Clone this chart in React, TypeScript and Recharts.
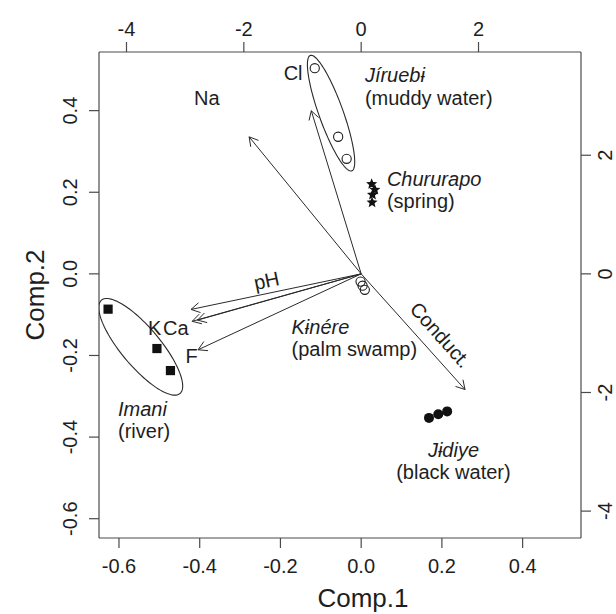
import React from 'react';
import { ScatterChart, Scatter, XAxis, YAxis } from 'recharts';

// ---- axis ticks ----
const comp1Ticks = [-0.6, -0.4, -0.2, 0.0, 0.2, 0.4];
const comp2Ticks = [-0.6, -0.4, -0.2, 0.0, 0.2, 0.4];
const loadTicksX = [-4, -2, 0, 2];
const loadTicksY = [-4, -2, 0, 2];

// ---- sample scores (Comp.1, Comp.2) ----
const jiruebi = [
  { x: -0.115, y: 0.504 },
  { x: -0.057, y: 0.336 },
  { x: -0.036, y: 0.282 },
];
const chururapo = [
  { x: 0.026, y: 0.22 },
  { x: 0.034, y: 0.206 },
  { x: 0.028, y: 0.194 },
  { x: 0.027, y: 0.175 },
];
const kinere = [
  { x: -0.0015, y: -0.019 },
  { x: 0.0035, y: -0.029 },
  { x: 0.009, y: -0.039 },
];
const imani = [
  { x: -0.627, y: -0.0865 },
  { x: -0.506, y: -0.183 },
  { x: -0.4725, y: -0.237 },
];
const jidiye = [
  { x: 0.168, y: -0.353 },
  { x: 0.191, y: -0.344 },
  { x: 0.213, y: -0.337 },
];

// ---- variable loadings (top / right axes units) ----
const loadings = [
  { name: 'Cl', x: -0.85, y: 2.75 },
  { name: 'Na', x: -1.91, y: 2.31 },
  { name: 'pH', x: -2.9, y: -0.6 },
  { name: 'K', x: -2.88, y: -0.8 },
  { name: 'Ca', x: -2.79, y: -0.78 },
  { name: 'F', x: -2.78, y: -1.28 },
  { name: 'Conduct.', x: 1.77, y: -1.95 },
];
const loadingLabels = [
  { text: 'Cl', x: -1.16, y: 3.27 },
  { text: 'Na', x: -2.63, y: 2.85 },
  { text: 'pH', x: -1.61, y: -0.13 },
  { text: 'K', x: -3.52, y: -1.03 },
  { text: 'Ca', x: -3.16, y: -1.03 },
  { text: 'F', x: -2.89, y: -1.5 },
  { text: 'Conduct.', x: 1.34, y: -1.04 },
];

// ---- group labels (Comp.1, Comp.2) ----
const groupLabels = [
  { name: 'Jíruebɨ', desc: '(muddy water)', x: 0.0092, y: 0.47 },
  { name: 'Chururapo', desc: '(spring)', x: 0.0637, y: 0.2155 },
  { name: 'Kɨnére', desc: '(palm swamp)', x: -0.1725, y: -0.1472 },
  { name: 'Imani', desc: '(river)', x: -0.6024, y: -0.3478 },
  { name: 'Jɨdiye', desc: '(black water)', x: 0.2286, y: -0.4482 },
];

// ---- group ellipses: center, end of major axis, end of minor axis ----
const ellipseJiruebi = [
  { x: -0.0746, y: 0.3938 },
  { x: -0.0231, y: 0.2524 },
  { x: -0.0466, y: 0.4043 },
];
const ellipseImani = [
  { x: -0.5461, y: -0.1788 },
  { x: -0.4489, y: -0.2932 },
  { x: -0.5092, y: -0.1482 },
];

// ---- styles ----
const FONT = '"Liberation Sans", Arial, Helvetica, sans-serif';
const INK = '#1e1e1e';
const FRAME = '#4a4a4a';
const labelRotation: Record<string, number> = { pH: -11.7, 'Conduct.': 48.2 };
const groupAnchor: Record<string, string> = { 'Jɨdiye': 'middle' };

const Empty = () => <g />;

const OpenCircle = (p: any) => (
  <circle cx={p.cx} cy={p.cy} r={4.6} fill="none" stroke={INK} strokeWidth={1.1} />
);
const FilledCircle = (p: any) => <circle cx={p.cx} cy={p.cy} r={5} fill="#111" />;
const FilledSquare = (p: any) => (
  <rect x={p.cx - 4.6} y={p.cy - 4.6} width={9.2} height={9.2} fill="#111" />
);
const Star = (p: any) => {
  const R = 5.8, r = 2.6;
  const pts: string[] = [];
  for (let i = 0; i < 10; i++) {
    const a = -Math.PI / 2 + (i * Math.PI) / 5;
    const rr = i % 2 === 0 ? R : r;
    pts.push(`${p.cx + rr * Math.cos(a)},${p.cy + rr * Math.sin(a)}`);
  }
  return <polygon points={pts.join(' ')} fill="#111" />;
};

const ArrowLine = (props: any) => {
  const pts = props.points;
  if (!pts || pts.length < 2) return null;
  const a = pts[0], b = pts[1];
  const ang = Math.atan2(b.y - a.y, b.x - a.x);
  const L = 10, phi = Math.PI / 6;
  const h1x = b.x - L * Math.cos(ang - phi), h1y = b.y - L * Math.sin(ang - phi);
  const h2x = b.x - L * Math.cos(ang + phi), h2y = b.y - L * Math.sin(ang + phi);
  return (
    <g>
      <line x1={a.x} y1={a.y} x2={b.x} y2={b.y} stroke="#2a2a2a" strokeWidth={1} />
      <polyline points={`${h1x},${h1y} ${b.x},${b.y} ${h2x},${h2y}`} fill="none" stroke="#2a2a2a" strokeWidth={1} />
    </g>
  );
};

const EllipseLine = (props: any) => {
  const pts = props.points;
  if (!pts || pts.length < 3) return null;
  const c = pts[0], p = pts[1], q = pts[2];
  const ux = p.x - c.x, uy = p.y - c.y, vx = q.x - c.x, vy = q.y - c.y;
  let d = '';
  const n = 120;
  for (let i = 0; i <= n; i++) {
    const t = (i / n) * 2 * Math.PI;
    const x = c.x + Math.cos(t) * ux + Math.sin(t) * vx;
    const y = c.y + Math.cos(t) * uy + Math.sin(t) * vy;
    d += (i === 0 ? 'M' : 'L') + x.toFixed(2) + ',' + y.toFixed(2);
  }
  return <path d={d + 'Z'} fill="none" stroke="#2a2a2a" strokeWidth={1.1} />;
};

const VarLabel = (p: any) => {
  const t = p.payload.text;
  const rot = labelRotation[t];
  if (rot !== undefined) {
    return (
      <text transform={`translate(${p.cx},${p.cy}) rotate(${rot})`} textAnchor="middle" dy="0.3em"
        fontFamily={FONT} fontSize={20} fill={INK}>{t}</text>
    );
  }
  return (
    <text x={p.cx} y={p.cy} textAnchor="middle" fontFamily={FONT} fontSize={20} fill={INK}>{t}</text>
  );
};

const GroupLabel = (p: any) => {
  const anchor = groupAnchor[p.payload.name] || 'start';
  return (
    <text x={p.cx} y={p.cy} textAnchor={anchor} fontFamily={FONT} fontSize={20} fill={INK}>
      <tspan x={p.cx} fontStyle="italic">{p.payload.name}</tspan>
      <tspan x={p.cx} dy={22.5}>{p.payload.desc}</tspan>
    </text>
  );
};

const fmt1 = (v: number) => (Math.abs(v) < 1e-9 ? '0.0' : v.toFixed(1));

const BottomTick = (p: any) => (
  <text x={p.x} y={p.y + 25} textAnchor="middle" fontFamily={FONT} fontSize={20} fill={INK}>
    {fmt1(p.payload.value)}
  </text>
);
const TopTick = (p: any) => (
  <text x={p.x} y={p.y - 6.5} textAnchor="middle" fontFamily={FONT} fontSize={20} fill={INK}>
    {String(p.payload.value)}
  </text>
);
const LeftTick = (p: any) => (
  <text transform={`translate(${p.x - 12},${p.y}) rotate(-90)`} textAnchor="middle"
    fontFamily={FONT} fontSize={20} fill={INK}>
    {fmt1(p.payload.value)}
  </text>
);
const RightTick = (p: any) => (
  <text transform={`translate(${p.x + 21},${p.y}) rotate(-90)`} textAnchor="middle"
    fontFamily={FONT} fontSize={20} fill={INK}>
    {String(p.payload.value)}
  </text>
);

const TitleX = () => (
  <text x={363} y={607} textAnchor="middle" fontFamily={FONT} fontSize={26} fill={INK}>Comp.1</text>
);
const TitleY = () => (
  <text transform="translate(44,295) rotate(-90)" textAnchor="middle" fontFamily={FONT} fontSize={26} fill={INK}>Comp.2</text>
);

export default function App() {
  const axisCommon = {
    type: 'number' as const,
    allowDataOverflow: true,
    tickSize: 10,
    tickMargin: 0,
    stroke: FRAME,
    axisLine: { stroke: FRAME, strokeWidth: 1.2 },
    tickLine: { stroke: FRAME, strokeWidth: 1.2 },
  };
  return (
    <div style={{ position: 'absolute', left: 0, top: 0, background: '#fff' }}>
      <ScatterChart width={616} height={614} margin={{ top: 0, right: 0, bottom: 0, left: 0 }}>
        <XAxis {...axisCommon} xAxisId="b" dataKey="x" orientation="bottom" height={76}
          domain={[-0.6495, 0.5446]} ticks={comp1Ticks} tick={BottomTick} label={<TitleX />} />
        <XAxis {...axisCommon} xAxisId="t" dataKey="x" orientation="top" height={52}
          domain={[-4.4686, 3.7468]} ticks={loadTicksX} tick={TopTick} />
        <YAxis {...axisCommon} yAxisId="l" dataKey="y" orientation="left" width={99}
          domain={[-0.6473, 0.5437]} ticks={comp2Ticks} tick={LeftTick} label={<TitleY />} />
        <YAxis {...axisCommon} yAxisId="r" dataKey="y" orientation="right" width={35}
          domain={[-4.4534, 3.7407]} ticks={loadTicksY} tick={RightTick} />

        <Scatter xAxisId="b" yAxisId="l" data={ellipseJiruebi} line={EllipseLine} lineType="joint" shape={Empty} isAnimationActive={false} />
        <Scatter xAxisId="b" yAxisId="l" data={ellipseImani} line={EllipseLine} lineType="joint" shape={Empty} isAnimationActive={false} />

        {loadings.map((l) => (
          <Scatter key={l.name} xAxisId="t" yAxisId="r" data={[{ x: 0, y: 0 }, { x: l.x, y: l.y }]}
            line={ArrowLine} lineType="joint" shape={Empty} isAnimationActive={false} />
        ))}

        <Scatter xAxisId="b" yAxisId="l" data={jiruebi} shape={OpenCircle} isAnimationActive={false} />
        <Scatter xAxisId="b" yAxisId="l" data={chururapo} shape={Star} isAnimationActive={false} />
        <Scatter xAxisId="b" yAxisId="l" data={kinere} shape={OpenCircle} isAnimationActive={false} />
        <Scatter xAxisId="b" yAxisId="l" data={imani} shape={FilledSquare} isAnimationActive={false} />
        <Scatter xAxisId="b" yAxisId="l" data={jidiye} shape={FilledCircle} isAnimationActive={false} />

        <Scatter xAxisId="t" yAxisId="r" data={loadingLabels} shape={VarLabel} isAnimationActive={false} />
        <Scatter xAxisId="b" yAxisId="l" data={groupLabels} shape={GroupLabel} isAnimationActive={false} />
      </ScatterChart>
    </div>
  );
}
